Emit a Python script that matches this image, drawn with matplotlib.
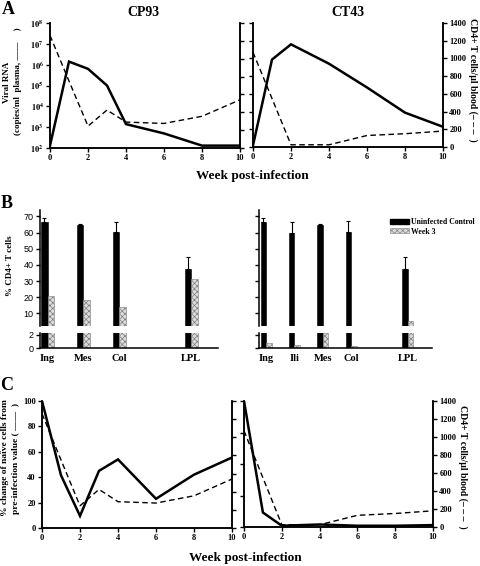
import numpy as np
import matplotlib
matplotlib.use("Agg")
import matplotlib.pyplot as plt
from matplotlib.patches import Patch

plt.rcParams['font.family'] = ['Liberation Serif', 'DejaVu Serif']
plt.rcParams['font.weight'] = 'bold'
plt.rcParams['mathtext.fontset'] = 'stix'
plt.rcParams['hatch.linewidth'] = 0.5

# ---- data ----
# panel A / C, animal CP93
cp93_weeks = [0, 1, 2, 3, 4, 6, 8, 10]
cp93_rna = [1.3e2, 1.4e6, 6.3e5, 1.0e5, 1.4e3, 5.0e2, 1.3e2, 1.3e2]
cp93_cd4 = [1260, 750, 245, 425, 290, 275, 355, 540]
cp93_naive = [100, 41.5, 9.5, 45, 54, 23, 42, 55.5]

# animal CT43
ct43_weeks = [0, 1, 2, 4, 6, 8, 10]
ct43_rna = [1.2e2, 1.7e6, 9.3e6, 1.07e6, 7.6e4, 4.6e3, 9.5e2]
ct43_cd4_weeks = [0, 2, 4, 6, 8, 10]
ct43_cd4 = [1070, 25, 25, 130, 150, 180]
ct43_naive = [100, 11.5, 1.0, 2.0, 1.0, 1.0, 1.5]

# panel B
tissues_l = ['Ing', 'Mes', 'Col', 'LPL']
pos_l = [0, 1, 2, 4]
ctrl_l = [66.7, 64.6, 60.5, 37.6]
ctrl_err_l = [2.4, 1.0, 6.2, 7.2]
wk3_l = [21, 18.6, 14, 31.6]

tissues_r = ['Ing', 'Ili', 'Mes', 'Col', 'LPL']
pos_r = [0, 1, 2, 3, 5]
ctrl_r = [66.8, 59.5, 64.6, 60.3, 37.7]
ctrl_err_r = [2.0, 7.3, 1.0, 6.6, 7.2]
wk3_r = [0.8, 0.5, 2.2, 0.3, 5.5]

W, H = 480, 566
fig = plt.figure(figsize=(W / 100, H / 100), dpi=100)


def add_px(x0, y0, x1, y1):
    return fig.add_axes([x0 / W, 1 - y1 / H, (x1 - x0) / W, (y1 - y0) / H])


def style(ax):
    for s in ax.spines.values():
        s.set_linewidth(1.1)
    ax.spines['top'].set_visible(False)
    ax.tick_params(direction='out', length=3, width=1, labelsize=6, pad=1.5)


solid_kw = dict(color='k', lw=1.8, solid_joinstyle='miter')
dash_kw = dict(color='k', lw=1.0, linestyle=(0, (4, 2.5)))
cd4_ticks = list(range(0, 1401, 200))
week_ticks = [0, 2, 4, 6, 8, 10]

# ---------------- A: CP93 ----------------
axA1 = add_px(50, 23, 240, 148)
style(axA1)
axA1.set_yscale('log')
axA1.set_ylim(1e2, 1e8)
axA1.set_xlim(0, 10)
axA1.set_xticks(week_ticks)
axA1.set_yticks([10.0 ** k for k in range(2, 9)],
                [r'$\mathbf{10^{%d}}$' % k for k in range(2, 9)])
axA1.minorticks_off()
axA1.plot(cp93_weeks, cp93_rna, **solid_kw)
axA1t = axA1.twinx()
style(axA1t)
axA1t.set_ylim(0, 1400)
axA1t.set_yticks(cd4_ticks)
axA1t.tick_params(labelright=False)
axA1t.plot(cp93_weeks, cp93_cd4, **dash_kw)

# ---------------- A: CT43 ----------------
axA2 = add_px(253, 23, 443, 147)
style(axA2)
axA2.set_xlim(0, 10)
axA2.set_xticks(week_ticks)
axA2.set_yscale('log')
axA2.set_ylim(1e2, 1e8)
axA2.plot(ct43_weeks, ct43_rna, **solid_kw)
axA2t = axA2.twinx()
style(axA2t)
axA2.tick_params(axis='y', which='both', left=False, right=False,
                 labelleft=False, labelright=False)
axA2t.set_ylim(0, 1400)
axA2t.set_yticks(cd4_ticks)
axA2t.yaxis.set_ticks_position('both')
axA2t.tick_params(axis='y', labelleft=False, labelright=True)
axA2t.plot(ct43_cd4_weeks, ct43_cd4, **dash_kw)

fig.text(8 / W, 1 - 10 / H, 'A', fontsize=13, ha='center', va='center')
fig.text(143 / W, 1 - 12 / H, 'CP93', fontsize=10, ha='center', va='center')
fig.text(348 / W, 1 - 12 / H, 'CT43', fontsize=10, ha='center', va='center')
fig.text(252 / W, 1 - 176 / H, 'Week post-infection', fontsize=9.5,
         ha='center', va='center')
fig.text(7 / W, 1 - 82 / H, 'Viral RNA', fontsize=6.5, rotation=90,
         ha='center', va='center')
fig.text(18 / W, 1 - 81 / H, '(copies/ml  plasma, \u2014\u2014     )',
         fontsize=6.5, rotation=90, ha='center', va='center')
fig.text(473 / W, 1 - 80 / H, 'CD4+ T cells/\u00b5l blood (\u2013 \u2013 \u2013  )',
         fontsize=7, rotation=270, ha='center', va='center')

# ---------------- B ----------------
wk3_face = '#dcdcdc'
wk3_kw = dict(edgecolor='#808080', hatch='xxxxxx', lw=0.4)


def bar_pair(ax_up, ax_lo, pos, ctrl, err, wk3, w, labels, show_labels):
    pos = np.array(pos, dtype=float)
    for ax in (ax_up, ax_lo):
        style(ax)
        ax.bar(pos - w / 2, ctrl, width=w, color='k', edgecolor='k', lw=0.4)
        ax.bar(pos + w / 2, wk3, width=w, facecolor=wk3_face, **wk3_kw)
    ax_up.errorbar(pos - w / 2, ctrl, yerr=[np.zeros(len(err)), err],
                   fmt='none', ecolor='k', elinewidth=0.8, capsize=1.5,
                   capthick=0.8)
    ax_up.set_ylim(2.25, 74)
    ax_lo.set_ylim(0, 2.25)
    ax_up.spines['bottom'].set_visible(False)
    ax_up.spines['right'].set_visible(False)
    ax_lo.spines['right'].set_visible(False)
    ax_up.set_xticks([])
    ax_lo.set_xticks(pos, labels, fontsize=7.5)
    ax_lo.tick_params(axis='x', length=0, pad=4)
    up_ticks = list(range(10, 71, 10))
    if show_labels:
        ax_up.set_yticks(up_ticks, [str(t) for t in up_ticks],
                         fontfamily='Liberation Sans', fontweight='normal',
                         fontsize=6.5)
        ax_lo.set_yticks([0, 2], ['0', '2'], fontfamily='Liberation Sans',
                         fontweight='normal', fontsize=6.5)
    else:
        ax_up.set_yticks(up_ticks)
        ax_lo.set_yticks([0, 2])
        ax_up.tick_params(labelleft=False)
        ax_lo.tick_params(labelleft=False)


axB1u = add_px(40, 210, 218, 326)
axB1l = add_px(40, 333, 218, 348)
bar_pair(axB1u, axB1l, pos_l, ctrl_l, ctrl_err_l, wk3_l, 0.18, tissues_l, True)
for ax in (axB1u, axB1l):
    ax.set_xlim(-0.21, 4.75)

axB2u = add_px(259, 210, 432, 326)
axB2l = add_px(259, 333, 432, 348)
bar_pair(axB2u, axB2l, pos_r, ctrl_r, ctrl_err_r, wk3_r, 0.194, tissues_r, False)
for ax in (axB2u, axB2l):
    ax.set_xlim(-0.25, 5.86)

fig.legend(handles=[Patch(facecolor='k', edgecolor='k'),
                    Patch(facecolor=wk3_face, **wk3_kw)],
           labels=['Uninfected Control', 'Week 3'], loc='upper left',
           bbox_to_anchor=(390 / W, 1 - 218 / H), frameon=False, fontsize=5.6,
           handlelength=2.4, handleheight=0.6, labelspacing=0.2,
           handletextpad=0.3, borderpad=0, borderaxespad=0)

fig.text(7 / W, 1 - 203 / H, 'B', fontsize=13, ha='center', va='center')
fig.text(10 / W, 1 - 266 / H, '% CD4+ T cells', fontsize=6.5, rotation=90,
         ha='center', va='center')

# ---------------- C: CP93 ----------------
axC1 = add_px(42, 401, 232, 528)
style(axC1)
axC1.set_xlim(0, 10)
axC1.set_xticks(week_ticks)
axC1.set_ylim(0, 100)
axC1.set_yticks(range(0, 101, 20))
axC1.plot(cp93_weeks, cp93_naive, **solid_kw)
axC1t = axC1.twinx()
style(axC1t)
axC1t.set_ylim(0, 1400)
axC1t.set_yticks(cd4_ticks)
axC1t.tick_params(labelright=False)
axC1t.plot(cp93_weeks, cp93_cd4, **dash_kw)

# ---------------- C: CT43 ----------------
axC2 = add_px(244, 401, 433, 527)
style(axC2)
axC2.set_xlim(0, 10)
axC2.set_xticks(week_ticks)
axC2.set_ylim(0, 100)
axC2.plot(ct43_weeks, ct43_naive, **solid_kw)
axC2t = axC2.twinx()
style(axC2t)
axC2.set_yticks([0, 25, 50, 75, 100])
axC2.tick_params(axis='y', left=True, labelleft=False)
axC2t.set_ylim(0, 1400)
axC2t.set_yticks(cd4_ticks)
axC2t.plot(ct43_cd4_weeks, ct43_cd4, **dash_kw)

fig.text(7 / W, 1 - 385 / H, 'C', fontsize=13, ha='center', va='center')
fig.text(245 / W, 1 - 558 / H, 'Week post-infection', fontsize=9.5,
         ha='center', va='center')
fig.text(5 / W, 1 - 458 / H, '% change of na\u00efve cells from', fontsize=6.8,
         rotation=90, ha='center', va='center')
fig.text(16 / W, 1 - 458 / H, 'pre-infection value ( \u2014\u2014  )',
         fontsize=6.8, rotation=90, ha='center', va='center')
fig.text(463 / W, 1 - 467 / H, 'CD4+ T cells/\u00b5l blood (\u2013 \u2013 \u2013  )',
         fontsize=7, rotation=270, ha='center', va='center')

fig.savefig('out.png', dpi=100)
